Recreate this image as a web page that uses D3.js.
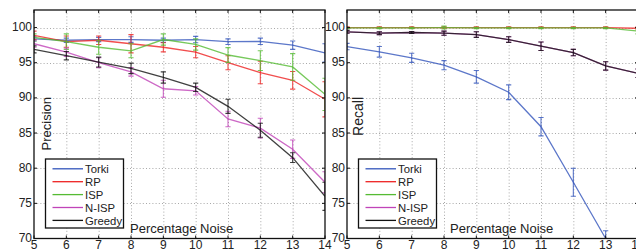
<!DOCTYPE html>
<html>
<head>
<meta charset="utf-8">
<script src="https://cdn.jsdelivr.net/npm/d3@7"></script>
<style>
  html, body { margin: 0; padding: 0; background: #fff; }
  svg { display: block; font-family: "Liberation Sans", Arial, sans-serif; }
</style>
</head>
<body>
<svg id="chart" width="636" height="250"></svg>
<script>
// ---------------- data ----------------
const noise = [5, 6, 7, 8, 9, 10, 11, 12, 13, 14];
const seriesNames = ["Torki", "RP", "ISP", "N-ISP", "Greedy"];
const seriesColors = ["#3355bb", "#ee2222", "#55bb33", "#c044b8", "#111111"];
const xTicks = [5, 6, 7, 8, 9, 10, 11, 12, 13, 14];
const yTicks = [70, 75, 80, 85, 90, 95, 100];

// Precision (left panel)
const precTorki  = [98.4, 98.2, 98.3, 98.3, 98.2, 98.3, 98.0, 98.05, 97.5, 96.4];
const precRP     = [98.9, 98.0, 98.2, 97.7, 97.2, 96.5, 95.0, 93.6, 92.5, 89.8];
const precISP    = [98.6, 98.0, 97.2, 96.7, 98.3, 97.6, 96.1, 95.3, 94.4, 90.5];
const precNISP   = [97.7, 96.5, 95.0, 93.7, 91.3, 91.0, 87.0, 85.7, 82.7, 78.0];
const precGreedy = [96.9, 96.0, 95.1, 94.2, 92.9, 91.5, 88.8, 85.4, 81.5, 76.0];
const precErrTorki  = [0.3, 0.3, 0.3, 0.4, 0.3, 0.45, 0.4, 0.45, 0.6, 1.3];
const precErrRP     = [0.6, 0.8, 0.6, 1.3, 0.65, 0.8, 1.0, 1.6, 1.25, 2.5];
const precErrISP    = [0.5, 1.1, 1.0, 1.0, 0.8, 0.8, 1.05, 1.4, 1.9, 2.3];
const precErrNISP   = [0.5, 0.6, 0.7, 0.6, 1.2, 0.6, 1.1, 1.4, 1.3, 1.5];
const precErrGreedy = [0.5, 0.6, 0.7, 0.75, 0.8, 0.6, 1.0, 1.0, 0.7, 2.0];

// Recall (right panel)
const recTorki  = [97.3, 96.55, 95.7, 94.65, 93.0, 90.8, 85.9, 78.0, 70.0, null];
const recRP     = [100, 100, 100, 100, 100, 100, 100, 100, 100, 99.9];
const recISP    = [99.95, 99.95, 99.95, 100, 99.95, 99.95, 99.95, 99.95, 99.95, 99.5];
const recNISP   = [99.4, 99.2, 99.3, 99.2, 99.0, 98.3, 97.35, 96.45, 94.55, 93.5];
const recGreedy = [99.4, 99.2, 99.3, 99.2, 99.0, 98.3, 97.35, 96.45, 94.55, 93.5];
const recErrTorki  = [0.45, 0.75, 0.65, 0.65, 0.9, 1.05, 1.3, 2.0, 1.1, null];
const recErrRP     = [0.1, 0.1, 0.1, 0.1, 0.1, 0.1, 0.1, 0.1, 0.1, 0.2];
const recErrISP    = [0.1, 0.1, 0.1, 0.2, 0.1, 0.1, 0.1, 0.1, 0.1, 0.4];
const recErrNISP   = [0.2, 0.2, 0.15, 0.3, 0.4, 0.4, 0.6, 0.45, 0.6, 0.6];
const recErrGreedy = [0.2, 0.2, 0.15, 0.3, 0.4, 0.4, 0.6, 0.45, 0.6, 0.6];

const xLabel = "Percentage Noise";

// ---------------- drawing ----------------
const svg = d3.select("#chart");

const panels = [
  { id: "p", left: 34, right: 325, yLabel: "Precision", yLabelX: 50.5, yLabelSize: 13, xLabelX: 130,
    values: [precTorki, precRP, precISP, precNISP, precGreedy],
    errors: [precErrTorki, precErrRP, precErrISP, precErrNISP, precErrGreedy] },
  { id: "r", left: 347, right: 638, yLabel: "Recall", yLabelX: 362.5, yLabelSize: 14, xLabelX: 450,
    values: [recTorki, recRP, recISP, recNISP, recGreedy],
    errors: [recErrTorki, recErrRP, recErrISP, recErrNISP, recErrGreedy] }
];

const plotTop = 10, plotBottom = 238.5;
const fontSize = 12;

panels.forEach(p => {
  const x = d3.scaleLinear().domain([5, 14]).range([p.left, p.right]);
  const y = d3.scaleLinear().domain([70, 102.5]).range([plotBottom, plotTop]);
  const g = svg.append("g");

  // clip
  svg.append("clipPath").attr("id", "clip-" + p.id)
    .append("rect").attr("x", p.left).attr("y", plotTop)
    .attr("width", p.right - p.left).attr("height", plotBottom - plotTop);

  // grid
  const grid = g.append("g").attr("stroke", "#a8a8a8").attr("stroke-width", 1)
    .attr("stroke-dasharray", "1,2.2");
  xTicks.slice(1, -1).forEach(t => {
    grid.append("line").attr("x1", x(t) + 0.5).attr("x2", x(t) + 0.5)
      .attr("y1", plotTop).attr("y2", plotBottom);
  });
  yTicks.slice(1).forEach(t => {
    grid.append("line").attr("x1", p.left).attr("x2", p.right)
      .attr("y1", Math.round(y(t)) + 0.5).attr("y2", Math.round(y(t)) + 0.5);
  });

  // series
  const plot = g.append("g").attr("clip-path", `url(#clip-${p.id})`);
  p.values.forEach((vals, si) => {
    const color = seriesColors[si];
    const pts = noise.map((n, i) => ({ n, v: vals[i], e: p.errors[si][i] }))
      .filter(d => d.v !== null);
    const sg = plot.append("g").attr("stroke", color).attr("fill", "none")
      .attr("stroke-opacity", 0.8);
    sg.append("path").datum(pts)
      .attr("stroke-width", 1.3)
      .attr("d", d3.line().x(d => x(d.n)).y(d => y(d.v)));
    pts.forEach(d => {
      if (d.e === null) return;
      const cx = x(d.n), y1 = y(d.v - d.e), y2 = y(d.v + d.e);
      sg.append("line").attr("x1", cx).attr("x2", cx).attr("y1", y1).attr("y2", y2).attr("stroke-width", 1.1);
      sg.append("line").attr("x1", cx - 2.6).attr("x2", cx + 2.6).attr("y1", y1).attr("y2", y1).attr("stroke-width", 1.1);
      sg.append("line").attr("x1", cx - 2.6).attr("x2", cx + 2.6).attr("y1", y2).attr("y2", y2).attr("stroke-width", 1.1);
    });
  });

  // frame
  g.append("rect").attr("x", p.left).attr("y", plotTop)
    .attr("width", p.right - p.left).attr("height", plotBottom - plotTop)
    .attr("fill", "none").attr("stroke", "#111").attr("stroke-width", 1.3);

  // inward ticks on all sides
  const ticks = g.append("g").attr("stroke", "#111").attr("stroke-width", 1);
  xTicks.forEach(t => {
    ticks.append("line").attr("x1", x(t)).attr("x2", x(t)).attr("y1", plotBottom).attr("y2", plotBottom - 3);
    ticks.append("line").attr("x1", x(t)).attr("x2", x(t)).attr("y1", plotTop).attr("y2", plotTop + 3);
  });
  yTicks.forEach(t => {
    ticks.append("line").attr("x1", p.left).attr("x2", p.left + 3).attr("y1", y(t)).attr("y2", y(t));
    ticks.append("line").attr("x1", p.right).attr("x2", p.right - 3).attr("y1", y(t)).attr("y2", y(t));
  });

  // tick labels
  const lab = g.append("g").attr("font-size", fontSize).attr("fill", "#222");
  xTicks.forEach(t => {
    lab.append("text").attr("x", x(t)).attr("y", 248.5)
      .attr("text-anchor", "middle").text(t);
  });
  yTicks.forEach(t => {
    lab.append("text").attr("x", p.left - 2).attr("y", y(t) + 3.5)
      .attr("text-anchor", "end").text(t);
  });

  // axis titles
  g.append("text").attr("transform", `translate(${p.yLabelX},97) rotate(-90)`)
    .attr("text-anchor", "end").attr("font-size", p.yLabelSize).attr("fill", "#222")
    .text(p.yLabel);
  g.append("text").attr("x", p.xLabelX).attr("y", 232.5)
    .attr("font-size", 13).attr("fill", "#222").text(xLabel);

  // legend
  const lx = p.left + 11.5, ly = 159;
  const leg = g.append("g");
  leg.append("rect").attr("x", lx).attr("y", ly).attr("width", 78).attr("height", 69)
    .attr("fill", "#fff").attr("stroke", "#111").attr("stroke-width", 1.3);
  seriesNames.forEach((name, i) => {
    const ry = ly + 9.8 + i * 12.9;
    leg.append("line").attr("x1", lx + 7).attr("x2", lx + 37.5)
      .attr("y1", ry).attr("y2", ry).attr("stroke", seriesColors[i]).attr("stroke-width", 1.3);
    leg.append("text").attr("x", lx + 39.5).attr("y", ry + 4.2)
      .attr("font-size", 11.3).attr("fill", "#222").text(name);
  });
});
</script>
</body>
</html>
